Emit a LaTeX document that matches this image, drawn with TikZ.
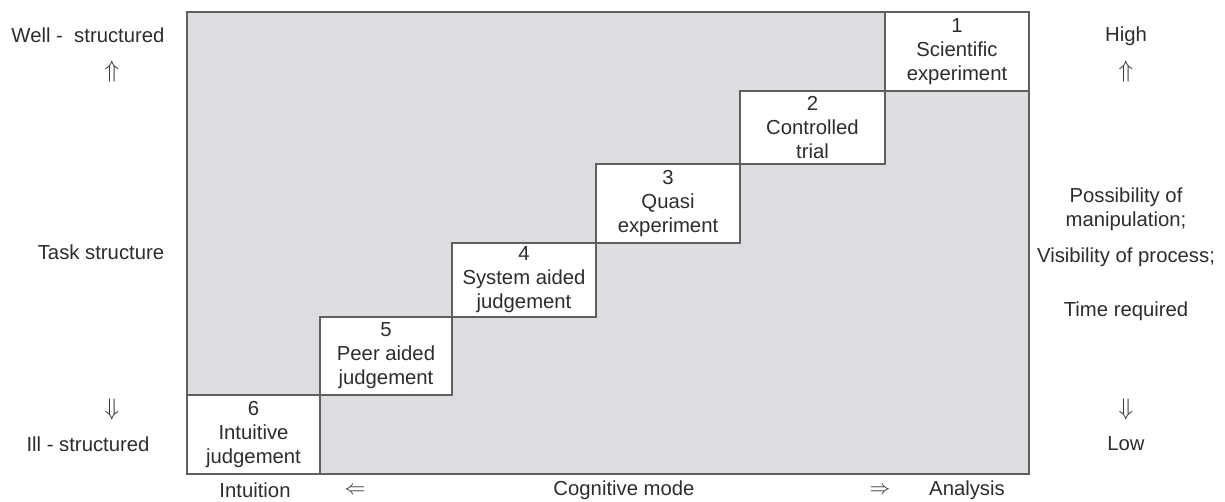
\documentclass[tikz,border=0pt]{standalone}
\usepackage{fontspec}
\setmainfont{Liberation Sans}
\definecolor{panel}{RGB}{220,221,224}
\definecolor{edge}{RGB}{95,95,95}
\definecolor{ink}{RGB}{45,45,45}
\begin{document}
\begin{tikzpicture}[x=1pt,y=-1pt,
  every node/.style={text=ink,font=\fontsize{20.3}{24}\selectfont,inner sep=0pt},
  stepbox/.style={draw=edge,line width=1.6pt,fill=white,align=center},
  frame/.style={draw=edge,line width=1.6pt,fill=panel},
  lab/.style={align=center}]
\useasboundingbox (0,0) rectangle (1225,501);
\fill[white] (0,0) rectangle (1225,501);
\draw[frame] (187,12) rectangle (1029,474);
\node[stepbox,minimum width=144pt,minimum height=79pt] (b1) at (957,51.5) {1\\Scientific\\experiment};
\node[stepbox,minimum width=145pt,minimum height=73pt] (b2) at (812.5,127.5) {2\\Controlled\\trial};
\node[stepbox,minimum width=144pt,minimum height=79pt] (b3) at (668,203.5) {3\\Quasi\\experiment};
\node[stepbox,minimum width=144pt,minimum height=74pt] (b4) at (524,280) {4\\System aided\\judgement};
\node[stepbox,minimum width=132pt,minimum height=78pt] (b5) at (386,356) {5\\Peer aided\\judgement};
\node[stepbox,minimum width=133pt,minimum height=79pt] (b6) at (253.5,434.5) {6\\Intuitive\\judgement};
% left labels
\node[lab] (lwell) at (88,35) {Well -\ \ structured};
\node[scale=1.15] (lup) at (112,72) {$\Uparrow$};
\node[lab] (ltask) at (101,252) {Task structure};
\node[scale=1.15] (ldn) at (112,410) {$\Downarrow$};
\node[lab] (lill) at (88,444) {Ill - structured};
% right labels
\node[lab] (rhigh) at (1126,36) {High};
\node[scale=1.15] (rup) at (1126,72) {$\Uparrow$};
\node[lab] (rposs) at (1126,209) {Possibility of\\manipulation;};
\node[lab] (rvis) at (1126,257) {Visibility of process;};
\node[lab] (rtime) at (1126,311) {Time required};
\node[scale=1.15] (rdn) at (1126,410) {$\Downarrow$};
\node[lab] (rlow) at (1126,444) {Low};
% bottom labels
\node[lab] (bint) at (255,490) {Intuition};
\node (bleft) at (355,491) {$\Leftarrow$};
\node[lab] (bcog) at (624,490) {Cognitive mode};
\node (bright) at (880,491) {$\Rightarrow$};
\node[lab] (bana) at (967,490) {Analysis};
\end{tikzpicture}
\end{document}
